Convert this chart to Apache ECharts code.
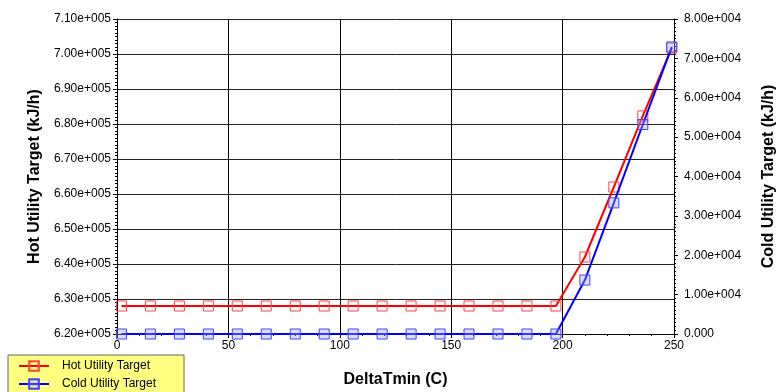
<!DOCTYPE html>
<html>
<head>
<meta charset="utf-8">
<script src="https://cdn.jsdelivr.net/npm/echarts@6/dist/echarts.min.js"></script>
<style>
  html, body { margin: 0; padding: 0; background: #fff; }
  #chart { width: 778px; height: 392px; }
</style>
</head>
<body>
<div id="chart"></div>
<script>
// DeltaTmin values (C)
var deltaTmin = [2, 15, 28, 41, 54, 67, 80, 93, 106, 119, 132, 145, 158, 171, 184, 197, 210, 223, 236, 249];
// Hot utility target (kJ/h)
var hotUtility = [628000, 628000, 628000, 628000, 628000, 628000, 628000, 628000, 628000, 628000,
                  628000, 628000, 628000, 628000, 628000, 628000, 642000, 662000, 682300, 701700];
// Cold utility target (kJ/h)
var coldUtility = [0, 0, 0, 0, 0, 0, 0, 0, 0, 0,
                   0, 0, 0, 0, 0, 0, 13700, 33300, 53200, 72900];

var seriesNames = ['Hot Utility Target', 'Cold Utility Target'];

function sci(v) {
    if (v === 0) return '0.000';
    var s = v.toExponential(2);
    var parts = s.split('e');
    var sign = parts[1][0];
    var exp = parts[1].slice(1);
    while (exp.length < 3) exp = '0' + exp;
    return parts[0] + 'e' + sign + exp;
}

function pairs(xs, ys) {
    return xs.map(function (x, i) { return [x, ys[i]]; });
}

var font = 'Liberation Sans, Arial, sans-serif';
var titleStyle = { fontSize: 16, fontWeight: 'bold', color: '#000', fontFamily: font };

var chart = echarts.init(document.getElementById('chart'));
chart.setOption({
    animation: false,
    textStyle: { fontFamily: font },
    grid: { left: 117, right: 104, top: 19, bottom: 58, outerBoundsMode: 'none', containLabel: false },
    legend: {
        orient: 'vertical',
        left: 8,
        top: 355,
        height: 80,
        data: seriesNames,
        backgroundColor: '#ffff80',
        borderColor: '#666',
        borderWidth: 1,
        padding: [5, 28, 20, 10],
        itemGap: 6,
        itemWidth: 30,
        itemHeight: 12,
        textStyle: { fontSize: 12, color: '#000', fontFamily: font, padding: [0, 0, 0, 8] }
    },
    xAxis: {
        type: 'value',
        min: 0, max: 250, interval: 50,
        name: 'DeltaTmin (C)',
        nameLocation: 'middle',
        nameGap: 38,
        nameTextStyle: titleStyle,
        axisLine: { lineStyle: { color: '#000' } },
        axisTick: { inside: false, length: 4, lineStyle: { color: '#000' } },
        minorTick: { show: true, splitNumber: 5, length: 2, lineStyle: { color: '#000' } },
        axisLabel: { fontSize: 12, color: '#000', margin: 6 },
        splitLine: { show: true, lineStyle: { color: '#000', width: 1 } }
    },
    yAxis: [
        {
            type: 'value',
            min: 620000, max: 710000, interval: 10000,
            name: 'Hot Utility Target (kJ/h)',
            nameLocation: 'middle',
            nameGap: 66,
            nameTextStyle: titleStyle,
            axisLine: { show: true, lineStyle: { color: '#000' } },
            axisTick: { show: true, length: 4, lineStyle: { color: '#000' } },
            minorTick: { show: true, splitNumber: 10, length: 2, lineStyle: { color: '#000' } },
            axisLabel: { fontSize: 12, color: '#000', margin: 6, formatter: sci },
            splitLine: { show: true, lineStyle: { color: '#222', width: 1 } }
        },
        {
            type: 'value',
            min: 0, max: 80000, interval: 10000,
            name: 'Cold Utility Target (kJ/h)',
            nameLocation: 'middle',
            nameGap: 87,
            nameRotate: 90,
            nameTextStyle: titleStyle,
            axisLine: { show: true, lineStyle: { color: '#000' } },
            axisTick: { show: true, length: 4, lineStyle: { color: '#000' } },
            minorTick: { show: true, splitNumber: 10, length: 2, lineStyle: { color: '#000' } },
            axisLabel: { fontSize: 12, color: '#000', margin: 10, formatter: sci },
            splitLine: { show: false }
        }
    ],
    series: [
        {
            name: seriesNames[0],
            type: 'line',
            yAxisIndex: 0,
            data: pairs(deltaTmin, hotUtility),
            symbol: 'rect',
            symbolSize: 10,
            showAllSymbol: true,
            lineStyle: { color: '#ff0000', width: 2 },
            itemStyle: { color: 'rgba(255,255,255,0)', borderColor: '#ff4040', borderWidth: 1 },
            z: 3
        },
        {
            name: seriesNames[1],
            type: 'line',
            yAxisIndex: 1,
            data: pairs(deltaTmin, coldUtility),
            symbol: 'rect',
            symbolSize: 10,
            showAllSymbol: true,
            lineStyle: { color: '#0000ff', width: 2 },
            itemStyle: { color: 'rgba(160,160,255,0.35)', borderColor: '#4040ff', borderWidth: 1 },
            z: 4
        }
    ]
});
</script>
</body>
</html>
